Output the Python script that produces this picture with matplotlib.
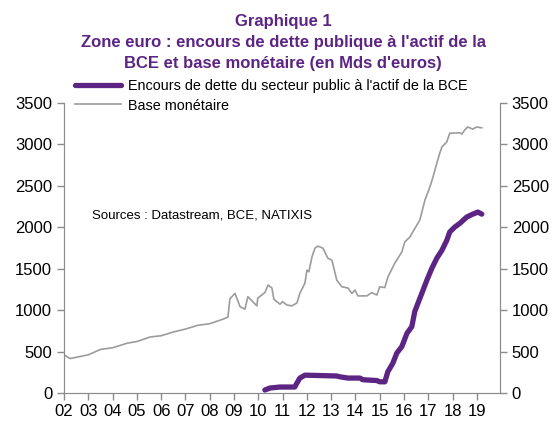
import matplotlib
matplotlib.use("Agg")
import matplotlib.pyplot as plt

plt.rcParams['font.family'] = ['Liberation Sans', 'DejaVu Sans']

# base monétaire (Mds d'euros), années décimales
base_years = [2002.00, 2002.25, 2002.50, 2003.00, 2003.50, 2004.00, 2004.60, 2005.00,
              2005.55, 2006.00, 2006.50, 2007.00, 2007.50, 2008.00, 2008.15, 2008.55,
              2008.75, 2008.83, 2009.04, 2009.25, 2009.45, 2009.57, 2009.94, 2009.98,
              2010.27, 2010.40, 2010.56, 2010.64, 2010.89, 2011.00, 2011.18, 2011.38,
              2011.59, 2011.71, 2011.92, 2012.00, 2012.08, 2012.21, 2012.33, 2012.45,
              2012.66, 2012.86, 2013.03, 2013.23, 2013.44, 2013.69, 2013.85, 2013.98,
              2014.10, 2014.47, 2014.67, 2014.88, 2015.00, 2015.21, 2015.33, 2015.62,
              2015.91, 2016.03, 2016.24, 2016.65, 2016.86, 2017.06, 2017.19, 2017.35,
              2017.47, 2017.56, 2017.76, 2017.88, 2018.30, 2018.38, 2018.50, 2018.62,
              2018.83, 2018.99, 2019.20]
base_values = [460, 415, 430, 460, 525, 545, 600, 620,
               675, 690, 735, 770, 815, 835, 850, 890,
               915, 1135, 1200, 1040, 1010, 1160, 1050, 1145,
               1210, 1300, 1265, 1130, 1070, 1100, 1060, 1050,
               1085, 1200, 1325, 1480, 1460, 1640, 1745, 1770,
               1745, 1625, 1600, 1360, 1280, 1265, 1200, 1240,
               1170, 1170, 1210, 1180, 1280, 1270, 1395, 1565,
               1700, 1820, 1880, 2085, 2325, 2480, 2600, 2770,
               2890, 2965, 3025, 3130, 3135, 3120, 3170, 3205,
               3180, 3205, 3195]

# encours de dette du secteur public à l'actif de la BCE
debt_years = [2010.27, 2010.48, 2010.89, 2011.50, 2011.59, 2011.71, 2011.92, 2013.23,
              2013.36, 2013.69, 2014.18, 2014.30, 2014.88, 2015.00, 2015.21, 2015.33,
              2015.54, 2015.70, 2015.91, 2016.12, 2016.32, 2016.44, 2016.57, 2016.73,
              2016.94, 2017.14, 2017.35, 2017.56, 2017.76, 2017.88, 2018.09, 2018.30,
              2018.58, 2018.83, 2019.04, 2019.20]
debt_values = [36, 60, 72, 72, 120, 180, 215, 205,
               195, 180, 180, 160, 150, 135, 135, 255,
               360, 480, 560, 720, 800, 980, 1080, 1200,
               1360, 1500, 1625, 1720, 1840, 1940, 2000, 2045,
               2120, 2155, 2180, 2155]

year_ticks = list(range(2002, 2020))
year_labels = ["%02d" % (y % 100) for y in year_ticks]
y_ticks = [0, 500, 1000, 1500, 2000, 2500, 3000, 3500]

purple = "#5c2483"
grey = "#9c9c9c"
spine = "#8c8c8c"

fig = plt.figure(figsize=(5.55, 4.21), dpi=100)
ax = fig.add_axes([0.1153, 0.0665, 0.7856, 0.69])

l2, = ax.plot(base_years, base_values, color=grey, lw=1.2, label="Base monétaire")
l1, = ax.plot(debt_years, debt_values, color=purple, lw=3.8, solid_capstyle="round",
              label="Encours de dette du secteur public à l'actif de la BCE")

ax.set_xlim(2002, 2019.95)
ax.set_ylim(0, 3500)
ax.set_xticks(year_ticks)
ax.set_xticklabels(year_labels)
ax.set_yticks(y_ticks)

ax2 = ax.twinx()
ax2.set_ylim(0, 3500)
ax2.set_yticks(y_ticks)

for a in (ax, ax2):
    a.spines["top"].set_visible(False)
    for s in ("left", "right", "bottom"):
        a.spines[s].set_color(spine)
    a.tick_params(colors=spine, labelcolor="black", labelsize=12, length=5, width=1)
ax.tick_params(axis="x", pad=3)

ax.legend(handles=[l1, l2], loc="upper left", bbox_to_anchor=(0.125, 0.825),
          bbox_transform=fig.transFigure, frameon=False, fontsize=10.4,
          handlelength=3.2, handletextpad=0.45, labelspacing=0.35, borderaxespad=0)

fig.text(0.51, 0.950, "Graphique 1", ha="center", va="center", color=purple,
         fontsize=12, fontweight="bold")
fig.text(0.51, 0.900, "Zone euro : encours de dette publique à l'actif de la",
         ha="center", va="center", color=purple, fontsize=12, fontweight="bold")
fig.text(0.51, 0.850, "BCE et base monétaire (en Mds d'euros)",
         ha="center", va="center", color=purple, fontsize=12, fontweight="bold")

ax.text(0.166, 0.487, "Sources : Datastream, BCE, NATIXIS", transform=fig.transFigure,
        ha="left", va="center", fontsize=9.5)

fig.savefig("out.png", dpi=100)
